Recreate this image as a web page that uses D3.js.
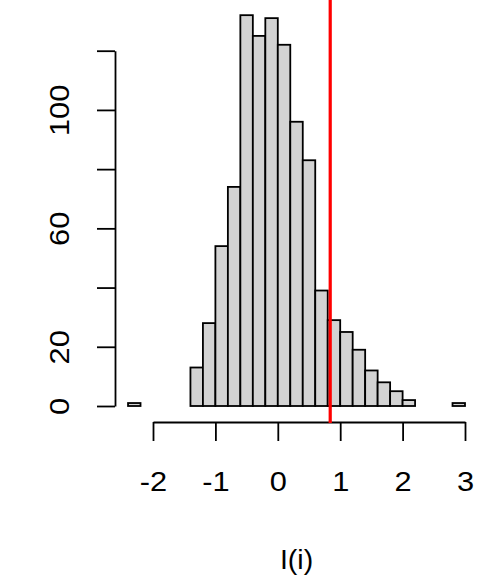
<!DOCTYPE html>
<html><head><meta charset="utf-8">
<script src="https://cdn.jsdelivr.net/npm/d3@7"></script>
<style>body{margin:0;background:#fff}svg{display:block}</style>
</head><body>
<script>
const binStarts = [-2.4,-2.2,-2.0,-1.8,-1.6,-1.4,-1.2,-1.0,-0.8,-0.6,-0.4,-0.2,0.0,0.2,0.4,0.6,0.8,1.0,1.2,1.4,1.6,1.8,2.0,2.2,2.4,2.6,2.8];
const counts    = [1,0,0,0,0,13,28,54,74,132,125,131,122,96,83,39,29,25,19,12,8,5,2,0,0,0,1];
const binWidth = 0.2;
const xTicks = [-2,-1,0,1,2,3];
const yTicks = [0,20,40,60,80,100,120];
const yLabels = [0,20,60,100];
const observed = 0.84;
const xLabel = "I(i)";

const W=480,H=576;
const svg=d3.select("body").append("svg").attr("width",W).attr("height",H);
const x=d3.scaleLinear().domain([-2,3]).range([153,465]);
const y=d3.scaleLinear().domain([0,120]).range([406,50.7]);
const font="'Liberation Sans', Arial, sans-serif";
const fs=28.5, sx=1.08, lw=1.8;

svg.append("g").selectAll("rect").data(binStarts).join("rect")
  .attr("x",d=>x(d)).attr("width",(d)=>x(d+binWidth)-x(d))
  .attr("y",(d,i)=>y(counts[i])).attr("height",(d,i)=>y(0)-y(counts[i]))
  .attr("fill","#d3d3d3").attr("stroke","#000").attr("stroke-width",lw);

const xa=svg.append("g").attr("transform","translate(0,422)")
  .call(d3.axisBottom(x).tickValues(xTicks).tickSize(19).tickSizeOuter(0).tickFormat(d=>String(d)));
xa.selectAll("path,line").attr("stroke","#000").attr("stroke-width",lw);
xa.selectAll("text").attr("font-family",font).attr("font-size",fs).attr("fill","#000").attr("dy",null).attr("y",69.5)
  .attr("transform",`scale(${sx},1)`);

const ya=svg.append("g").attr("transform","translate(115,0)")
  .call(d3.axisLeft(y).tickValues(yTicks).tickSize(18).tickSizeOuter(0).tickFormat(d=>yLabels.includes(d)?String(d):""));
ya.selectAll("path,line").attr("stroke","#000").attr("stroke-width",lw);
ya.selectAll("text").attr("font-family",font).attr("font-size",fs).attr("fill","#000")
  .attr("x",0).attr("y",0).attr("dy",null).attr("text-anchor","middle")
  .attr("transform",`translate(-45.7,0) rotate(-90) scale(${sx},1)`);

svg.append("line").attr("x1",x(observed)).attr("x2",x(observed)).attr("y1",0).attr("y2",423)
  .attr("stroke","#ff0000").attr("stroke-width",3.2);

svg.append("text").attr("x",x(0.3)).attr("y",569).attr("text-anchor","middle")
  .attr("font-family",font).attr("font-size",fs).text(xLabel);
</script>
</body></html>
